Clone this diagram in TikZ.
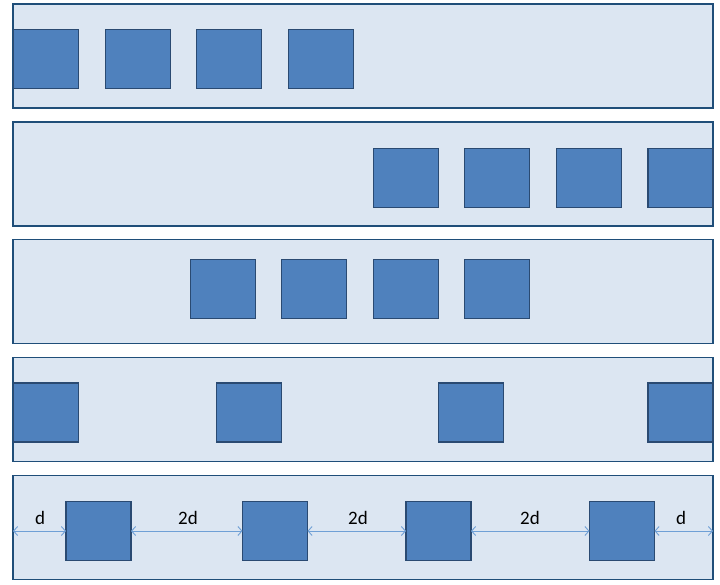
\documentclass[tikz,border=0pt]{standalone}
\usepackage{fontspec}
\setmainfont{Carlito}
\usetikzlibrary{arrows.meta}
\definecolor{panelfill}{HTML}{DCE6F2}
\definecolor{paneldraw}{HTML}{1F4E79}
\definecolor{boxfill}{HTML}{4F81BD}
\definecolor{boxdraw}{HTML}{2A4A72}
\definecolor{arrowcol}{HTML}{6FA0D6}
\tikzset{
  panel/.style={draw=paneldraw, fill=panelfill, line width=1.6pt, minimum width=700pt, minimum height=104pt, inner sep=0pt, outer sep=0pt},
  sq/.style={draw=boxdraw, fill=boxfill, line width=1.6pt, minimum width=65pt, minimum height=59pt, inner sep=0pt, outer sep=0pt},
  dimarrow/.style={draw=arrowcol, line width=0.9pt, {Straight Barb[length=4pt,width=9pt]}-{Straight Barb[length=4pt,width=9pt]}},
  lbl/.style={font=\fontsize{19}{22}\selectfont, inner sep=0pt}
}
\begin{document}
\begin{tikzpicture}[x=1pt,y=-1pt]
\useasboundingbox (0,0) rectangle (720,585);
% panels
\node[panel] (p1) at (363,56) {};
\node[panel] (p2) at (363,174) {};
\node[panel] (p3) at (363,291.5) {};
\node[panel] (p4) at (363,409.5) {};
\node[panel] (p5) at (363,527.5) {};
% panel 1
\node[sq] (s11) at (46,59) {};
\node[sq] (s12) at (138,59) {};
\node[sq] (s13) at (229,59) {};
\node[sq] (s14) at (321,59) {};
% panel 2
\node[sq] (s21) at (406,178) {};
\node[sq] (s22) at (497,178) {};
\node[sq] (s23) at (589,178) {};
\node[sq] (s24) at (680.5,178) {};
% panel 3
\node[sq] (s31) at (223,289) {};
\node[sq] (s32) at (314,289) {};
\node[sq] (s33) at (406,289) {};
\node[sq] (s34) at (497,289) {};
% panel 4
\node[sq] (s41) at (46,412.5) {};
\node[sq] (s42) at (249,412.5) {};
\node[sq] (s43) at (471,412.5) {};
\node[sq] (s44) at (680.5,412.5) {};
% panel 5
\node[sq] (s51) at (98.5,531) {};
\node[sq] (s52) at (275,531) {};
\node[sq] (s53) at (438.5,531) {};
\node[sq] (s54) at (622,531) {};
\coordinate (l5) at (p5.west |- s51.west);
\coordinate (r5) at (p5.east |- s54.east);
\draw[dimarrow] (l5) -- (s51.west);
\draw[dimarrow] (s51.east) -- (s52.west);
\draw[dimarrow] (s52.east) -- (s53.west);
\draw[dimarrow] (s53.east) -- (s54.west);
\draw[dimarrow] (s54.east) -- (r5);
\node[lbl] (d1) at (40,518) {d};
\node[lbl] (d2) at (188,518) {2d};
\node[lbl] (d3) at (358,518) {2d};
\node[lbl] (d4) at (530,518) {2d};
\node[lbl] (d5) at (681,518) {d};
\end{tikzpicture}
\end{document}
